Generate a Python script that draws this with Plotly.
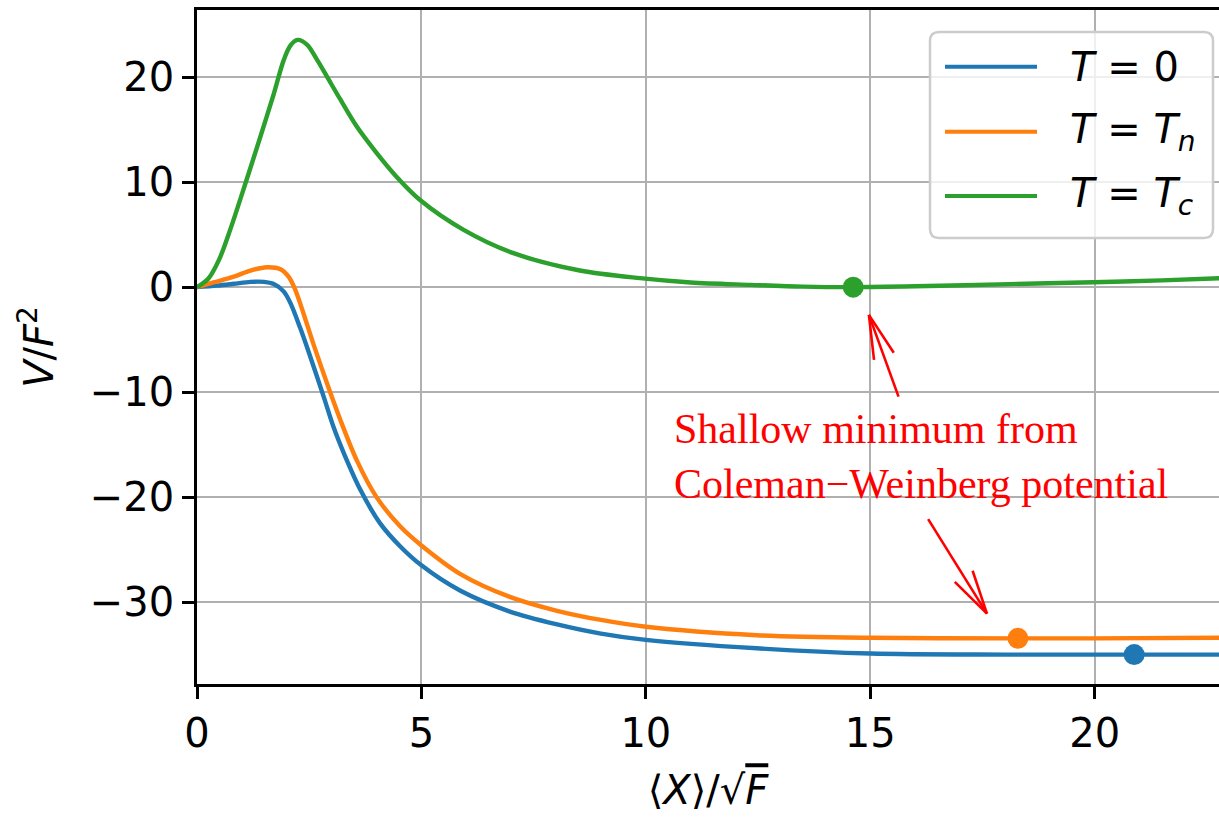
import plotly.graph_objects as go

# ---------------- data ----------------
x_t0 = [0, 0.45, 0.82, 1.19, 1.49, 1.71, 1.93, 2.08, 2.3, 2.49, 2.82, 3.04, 3.27, 3.64,
        4.08, 4.53, 5.0, 5.86, 6.97, 8.0, 9.0, 10.0, 12.47, 15.0, 18.0, 20.88, 22.8]
y_t0 = [0, 0.15, 0.32, 0.5, 0.5, 0.29, -0.4, -1.5, -3.9, -6.2, -10.4, -13.3, -15.8, -19.3,
        -22.5, -24.7, -26.5, -28.9, -30.9, -32.1, -33.0, -33.6, -34.4, -34.9, -35.0, -35.0, -35.0]

x_tn = [0, 0.37, 0.82, 1.19, 1.56, 1.86, 2.04, 2.19, 2.38, 2.6, 2.9, 3.19, 3.56,
        4.0, 4.53, 5.0, 5.86, 6.97, 8.0, 9.0, 10.0, 12.47, 15.0, 18.29, 20.0, 22.8]
y_tn = [0, 0.45, 1.0, 1.58, 1.9, 1.71, 1.0, -0.25, -2.6, -5.5, -9.2, -12.6, -16.5,
        -20.0, -22.8, -24.6, -27.3, -29.5, -30.8, -31.7, -32.35, -33.15, -33.4, -33.45, -33.45, -33.4]

x_tc = [0, 0.25, 0.5, 0.75, 1.08, 1.41, 1.71, 1.93, 2.08, 2.24, 2.45, 2.67, 2.89,
        3.19, 3.56, 4.0, 4.45, 4.97, 5.94, 7.05, 8.53, 9.87, 11.0, 12.34, 13.5, 14.62, 16.0,
        18.1, 19.98, 21.5, 22.8]
y_tc = [0, 0.8, 2.7, 5.6, 9.9, 14.3, 18.4, 21.6, 23.0, 23.55, 23.1, 21.7, 20.1,
        17.9, 15.3, 12.8, 10.5, 8.3, 5.46, 3.24, 1.59, 0.86, 0.45, 0.22, 0.05, 0.0, 0.08,
        0.29, 0.47, 0.65, 0.86]

min_x = [20.88, 18.29, 14.62]
min_y = [-35.0, -33.45, 0.0]

series_names = ["<i>T</i> = 0", "<i>T</i> = <i>T</i><sub><i>n</i></sub>", "<i>T</i> = <i>T</i><sub><i>c</i></sub>"]
colors = ["#1f77b4", "#ff7f0e", "#2ca02c"]

x_ticks = [0, 5, 10, 15, 20]
y_ticks = [-30, -20, -10, 0, 10, 20]

# ---------------- layout geometry ----------------
FIG_W, FIG_H = 1219, 821
L, R, T, B = 197, 0, 10, 137
PW, PH = FIG_W - L - R, FIG_H - T - B
X0, X1 = 0.0, 22.77
Y0, Y1 = -37.8, 26.4


def d2p(x, y):
    return L + (x - X0) / (X1 - X0) * PW, T + (Y1 - y) / (Y1 - Y0) * PH


def p2d(px, py):
    return X0 + (px - L) / PW * (X1 - X0), Y1 - (py - T) / PH * (Y1 - Y0)


def p2paper(px, py):
    return (px - L) / PW, (T + PH - py) / PH


fig = go.Figure()
for xs, ys, c, n in zip([x_t0, x_tn, x_tc], [y_t0, y_tn, y_tc], colors, series_names):
    fig.add_trace(go.Scatter(x=xs, y=ys, mode="lines", name=n,
                             line=dict(color=c, width=4.4, shape="spline", smoothing=0.9),
                             showlegend=False))
for mx, my, c in zip(min_x, min_y, colors):
    fig.add_trace(go.Scatter(x=[mx], y=[my], mode="markers",
                             marker=dict(color=c, size=21), showlegend=False))

shapes = []
annotations = []

# ---------------- annotation arrows (matplotlib "->" style) ----------------
RED = "#ff0000"
arrows = [((15.63, -10.43), (14.97, -2.64)), ((16.29, -22.1), (17.6, -31.1))]
HEAD_LEN, HEAD_HW = 44, 10.5
for (tx, ty), (hx, hy) in arrows:
    shapes.append(dict(type="line", xref="x", yref="y", x0=tx, y0=ty, x1=hx, y1=hy,
                       line=dict(color=RED, width=2.6)))
    tpx, tpy = d2p(tx, ty)
    hpx, hpy = d2p(hx, hy)
    vx, vy = tpx - hpx, tpy - hpy
    ln = (vx ** 2 + vy ** 2) ** 0.5
    ux, uy = vx / ln, vy / ln
    nx, ny = -uy, ux
    for s in (1, -1):
        bx = hpx + ux * HEAD_LEN + s * nx * HEAD_HW
        by = hpy + uy * HEAD_LEN + s * ny * HEAD_HW
        dx, dy = p2d(bx, by)
        shapes.append(dict(type="line", xref="x", yref="y", x0=hx, y0=hy, x1=dx, y1=dy,
                           line=dict(color=RED, width=2.6)))

tx_, ty_ = p2d(672, 456)
annotations.append(dict(x=tx_, y=ty_, xref="x", yref="y", xanchor="left", yanchor="middle",
                        align="left", showarrow=False,
                        text="Shallow minimum from<br>Coleman\u2212Weinberg potential",
                        font=dict(family="Liberation Serif", size=42, color=RED)))

# ---------------- manual legend ----------------
bx0, by0, bx1, by1, rr = 930, 32, 1213, 238, 9
(ax0, ay0), (ax1, ay1) = p2paper(bx0, by0), p2paper(bx1, by1)
rx = rr / PW
ry = rr / PH
path = (f"M{ax0 + rx},{ay0} L{ax1 - rx},{ay0} Q{ax1},{ay0} {ax1},{ay0 - ry} "
        f"L{ax1},{ay1 + ry} Q{ax1},{ay1} {ax1 - rx},{ay1} L{ax0 + rx},{ay1} "
        f"Q{ax0},{ay1} {ax0},{ay1 + ry} L{ax0},{ay0 - ry} Q{ax0},{ay0} {ax0 + rx},{ay0} Z")
shapes.append(dict(type="path", xref="paper", yref="paper", path=path, layer="above",
                   fillcolor="rgba(255,255,255,0.8)", line=dict(color="#cccccc", width=2.5)))
row_y = [66.7, 131.7, 196]
for ry_, c, n in zip(row_y, colors, series_names):
    (lx0, ly), (lx1, _) = p2paper(945, ry_), p2paper(1037, ry_)
    shapes.append(dict(type="line", xref="paper", yref="paper", x0=lx0, x1=lx1, y0=ly, y1=ly,
                       layer="above", line=dict(color=c, width=4)))
    tpx, tpy = p2paper(1068, ry_)
    annotations.append(dict(x=tpx, y=tpy, xref="paper", yref="paper", xanchor="left",
                            yanchor="middle", showarrow=False, text=n,
                            font=dict(family="DejaVu Sans", size=40, color="black")))

axis_common = dict(showgrid=True, gridcolor="#b0b0b0", gridwidth=2, zeroline=False,
                   showline=True, linecolor="black", linewidth=2.5, ticks="outside",
                   ticklen=12, tickwidth=2.5, tickcolor="black",
                   tickfont=dict(family="DejaVu Sans", size=40, color="black"))

fig.update_layout(
    width=FIG_W, height=FIG_H,
    margin=dict(l=L, r=R, t=T, b=B, autoexpand=False),
    paper_bgcolor="white", plot_bgcolor="white",
    font=dict(family="DejaVu Sans", size=40, color="black"),
    showlegend=False,
    xaxis=dict(range=[X0, X1], tickvals=x_ticks, mirror=True,
               title=dict(text="\u27e8<i>X</i>\u27e9/\u221a<span style='text-decoration:overline'><i>F</i></span>",
                          font=dict(family="DejaVu Sans", size=40), standoff=22),
               **axis_common),
    yaxis=dict(range=[Y0, Y1], tickvals=y_ticks, mirror=False,
               title=dict(text="<i>V</i>/<i>F</i><sup>2</sup>",
                          font=dict(family="DejaVu Sans", size=40), standoff=24),
               **axis_common),
    shapes=shapes,
    annotations=annotations,
)

fig.write_html("out.html")
